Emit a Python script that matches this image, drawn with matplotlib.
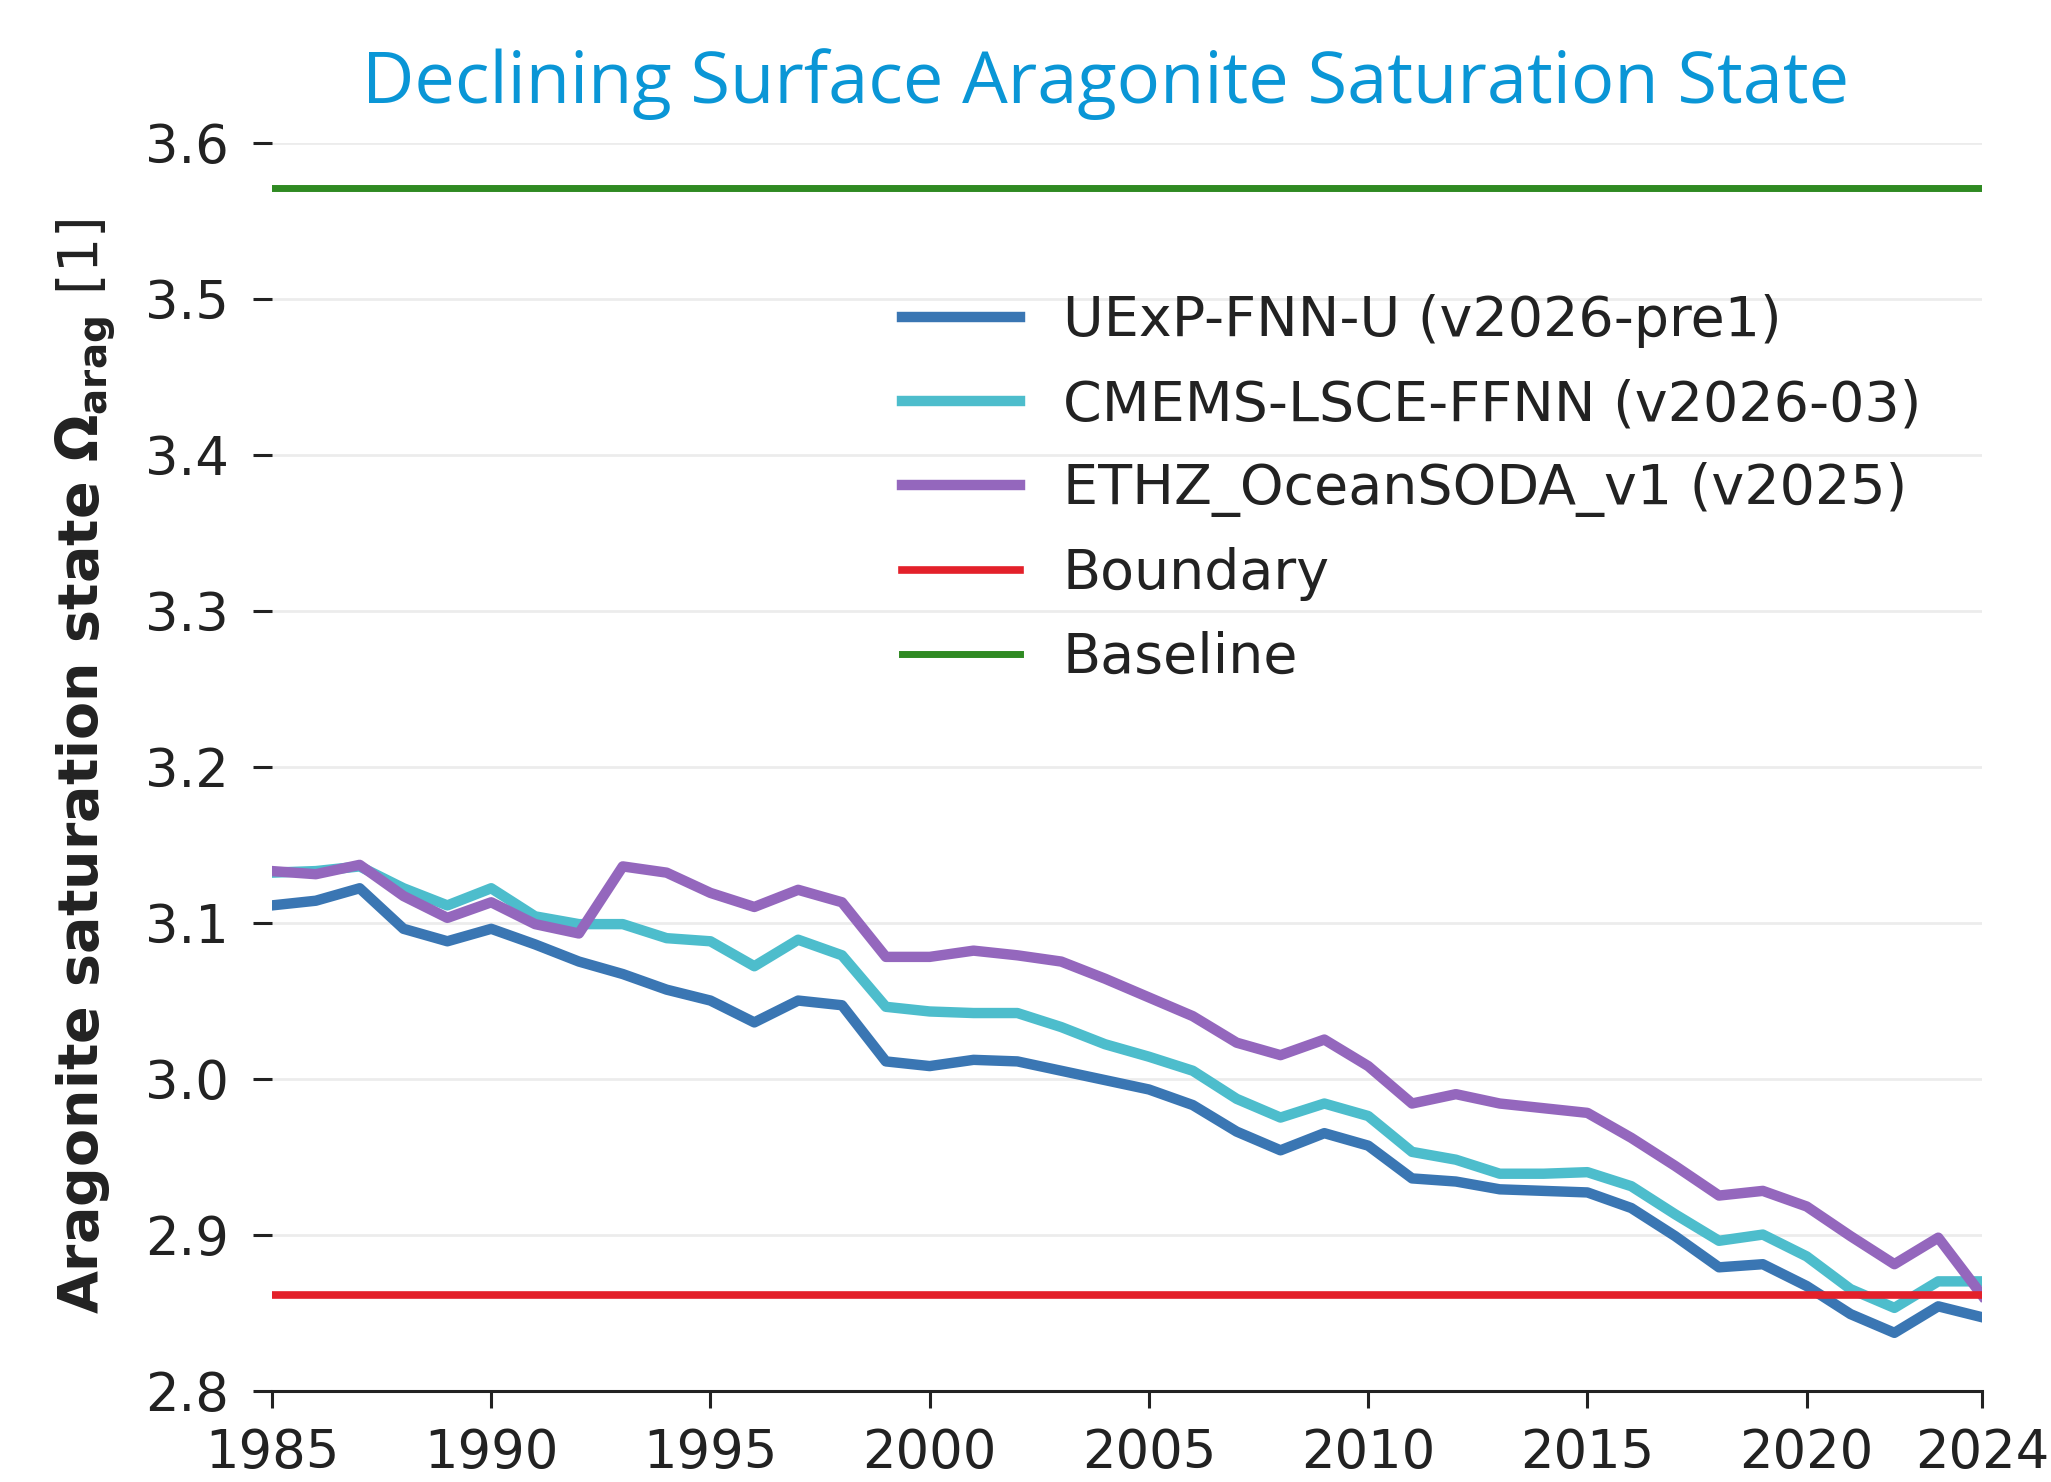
import matplotlib
matplotlib.use("Agg")
import matplotlib.pyplot as plt

years = list(range(1985, 2025))

uexp = [3.111, 3.114, 3.122, 3.096, 3.088, 3.096, 3.086, 3.075, 3.067, 3.057,
        3.050, 3.036, 3.050, 3.047, 3.011, 3.008, 3.012, 3.011, 3.005, 2.999,
        2.993, 2.983, 2.966, 2.954, 2.965, 2.957, 2.936, 2.934, 2.929, 2.928,
        2.927, 2.917, 2.899, 2.879, 2.881, 2.867, 2.849, 2.837, 2.854, 2.847]

cmems = [3.132, 3.133, 3.136, 3.122, 3.111, 3.122, 3.104, 3.099, 3.099, 3.090,
         3.088, 3.072, 3.089, 3.079, 3.046, 3.043, 3.042, 3.042, 3.033, 3.022,
         3.014, 3.005, 2.987, 2.975, 2.984, 2.976, 2.953, 2.948, 2.939, 2.939,
         2.940, 2.931, 2.913, 2.896, 2.900, 2.886, 2.865, 2.853, 2.870, 2.870]

ethz = [3.133, 3.131, 3.137, 3.117, 3.103, 3.113, 3.099, 3.093, 3.136, 3.132,
        3.119, 3.110, 3.121, 3.113, 3.078, 3.078, 3.082, 3.079, 3.075, 3.064,
        3.052, 3.040, 3.023, 3.015, 3.025, 3.008, 2.984, 2.990, 2.984, 2.981,
        2.978, 2.962, 2.944, 2.925, 2.928, 2.918, 2.899, 2.881, 2.898, 2.861]

boundary = 2.861
baseline = 3.571

series_labels = ["UExP-FNN-U (v2026-pre1)", "CMEMS-LSCE-FFNN (v2026-03)",
                 "ETHZ_OceanSODA_v1 (v2025)"]
x_ticks = [1985, 1990, 1995, 2000, 2005, 2010, 2015, 2020, 2024]
y_ticks = [2.8, 2.9, 3.0, 3.1, 3.2, 3.3, 3.4, 3.5, 3.6]

fig = plt.figure(figsize=(20.51, 14.82), dpi=100)
ax = fig.add_axes([0.1326, 0.0617, 0.8338, 0.8421])

ax.plot(years, uexp, color="#3a76b3", lw=7.5, label=series_labels[0])
ax.plot(years, cmems, color="#4dbdcc", lw=7.5, label=series_labels[1])
ax.plot(years, ethz, color="#9467bd", lw=7.5, label=series_labels[2])
ax.axhline(boundary, color="#e3202a", lw=5.5, label="Boundary")
ax.axhline(baseline, color="#2f8a22", lw=5, label="Baseline")

ax.set_xlim(1985, 2024)
ax.set_ylim(2.8, 3.6)
ax.set_xticks(x_ticks)
ax.set_yticks(y_ticks)
ax.set_yticklabels([f"{v:.1f}" for v in y_ticks])
ax.grid(axis="y", color="#ececec", lw=2)
ax.set_axisbelow(True)

for s in ["top", "right", "left"]:
    ax.spines[s].set_visible(False)
ax.spines["bottom"].set_linewidth(2.2)
ax.spines["bottom"].set_color("#222222")

ax.tick_params(axis="y", length=14, width=2.2, pad=17, labelsize=38, colors="#222222")
ax.tick_params(axis="x", length=12, width=2.2, pad=14, labelsize=38, colors="#222222")

ax.set_ylabel(r"Aragonite saturation state $\mathbf{\Omega_{arag}}$ $\mathrm{[1]}$",
              fontsize=40, fontweight="bold", color="#222222", labelpad=20)

leg = ax.legend(loc="upper left", bbox_to_anchor=(902 / 2051, 0.8016),
                bbox_transform=fig.transFigure, frameon=False, fontsize=40,
                borderpad=0, borderaxespad=0, handlelength=2.12,
                handletextpad=0.77, labelspacing=0.54)
for t in leg.get_texts():
    t.set_color("#222222")

fig.text(0.539, 0.943, "Declining Surface Aragonite Saturation State",
         ha="center", va="center", fontsize=52, color="#0a96d6",
         family=["Open Sans", "DejaVu Sans"])

fig.savefig("out.png", dpi=100, facecolor="white")
